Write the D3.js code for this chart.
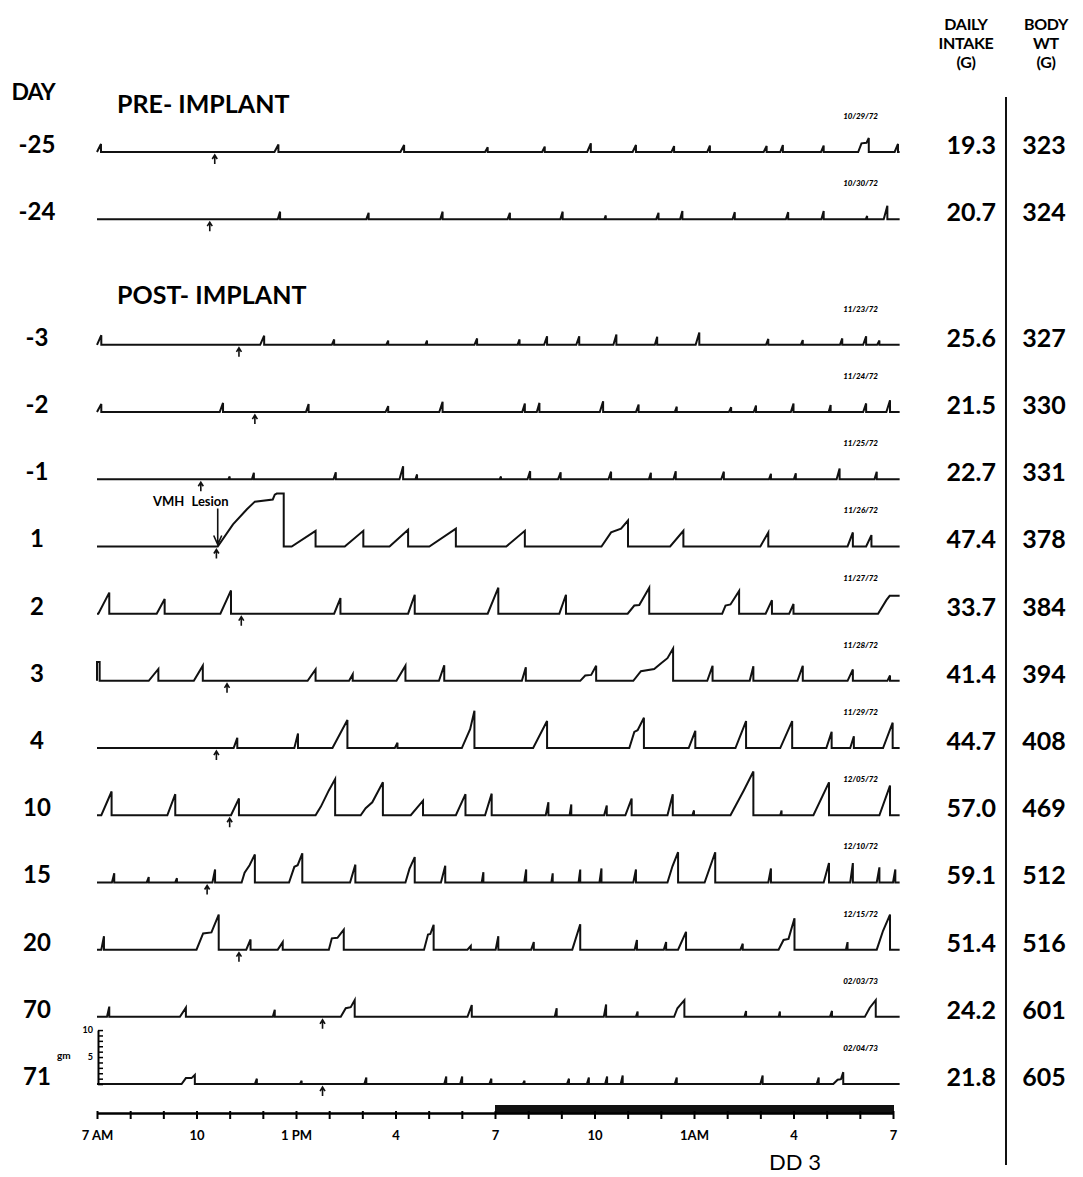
<!DOCTYPE html>
<html>
<head>
<meta charset="utf-8">
<script src="https://cdn.jsdelivr.net/npm/d3@7"></script>
<style>
body { margin:0; background:#fff; }
svg { display:block; font-family: Lato, "DejaVu Sans", sans-serif; }
.trace { fill:none; stroke:#111; stroke-width:2; stroke-linejoin:miter; }
</style>
</head>
<body>
<svg id="chart" width="1083" height="1177"></svg>
<script>
// ---- data ----
const days    = ["-25","-24","-3","-2","-1","1","2","3","4","10","15","20","70","71"];
const dates   = ["10/29/72","10/30/72","11/23/72","11/24/72","11/25/72","11/26/72","11/27/72",
                 "11/28/72","11/29/72","12/05/72","12/10/72","12/15/72","02/03/73","02/04/73"];
const intake  = [19.3,20.7,25.6,21.5,22.7,47.4,33.7,41.4,44.7,57.0,59.1,51.4,24.2,21.8];
const bodyWt  = [323,324,327,330,331,378,384,394,408,469,512,516,601,605];
const markerHours = [3.55,3.4,4.28,4.76,3.13,3.6,4.35,3.92,3.6,4.0,3.32,4.28,6.8,6.8];
const lesionHour = 3.64;
const hourTicks  = d3.range(0, 25);
const tickLabels = ["7 AM","10","1 PM","4","7","10","1AM","4","7"];
const darkPeriod = [12, 24];
const gmTicks = d3.range(0, 11);

// meals: [startHour, endHour, grams] or list of [hour, grams] vertices (drop after last)
const meals = [
  // -25
  [[0.0,0.12,1.5],[5.35,5.47,1.4],[9.15,9.26,1.3],[11.7,11.78,0.9],[13.42,13.5,1.0],[14.78,14.89,1.6],
   [16.15,16.25,1.3],[17.32,17.4,1.1],[18.4,18.48,1.2],[20.1,20.19,1.1],[20.6,20.68,1.3],[21.83,21.91,1.2],
   [[22.95,0],[23.05,1.6],[23.2,1.7],[23.27,2.6]],[24.05,24.15,1.5]],
  // -24
  [[5.45,5.52,1.4],[8.12,8.19,1.2],[10.35,10.42,1.4],[12.38,12.45,1.2],[13.97,14.04,1.4],[15.3,15.34,0.7],
   [16.86,16.93,1.2],[17.58,17.65,1.5],[19.16,19.23,1.3],[20.77,20.84,1.3],[21.84,21.91,1.5],[23.18,23.22,0.6],
   [23.72,23.83,2.5]],
  // -3
  [[0.0,0.13,1.8],[4.92,5.04,1.7],[7.08,7.15,1.0],[8.72,8.78,0.8],[9.9,9.95,0.8],[11.38,11.46,1.2],
   [12.68,12.74,1.0],[13.48,13.57,1.6],[14.45,14.54,1.6],[15.57,15.66,1.9],[16.82,16.89,1.5],[18.05,18.16,2.3],
   [20.17,20.24,1.1],[21.22,21.28,0.9],[22.4,22.47,1.2],[23.1,23.19,1.6],[23.52,23.59,0.8]],
  // -2
  [[0.0,0.13,1.5],[3.7,3.8,1.7],[6.3,6.38,1.5],[8.7,8.78,1.1],[10.32,10.42,1.9],[12.82,12.9,1.6],
   [13.26,13.34,1.7],[15.16,15.26,2.0],[16.25,16.33,1.4],[17.42,17.48,1.0],[19.05,19.12,0.9],[19.8,19.87,1.2],
   [20.92,21.0,1.6],[22.06,22.12,1.3],[23.1,23.19,1.6],[23.8,23.91,2.2]],
  // -1
  [[3.96,4.0,0.5],[4.67,4.73,1.2],[7.13,7.2,1.3],[9.12,9.23,2.4],[9.6,9.65,0.9],[12.14,12.18,0.5],
   [12.98,13.06,1.5],[13.9,13.98,1.3],[15.42,15.5,1.4],[16.64,16.7,1.2],[17.38,17.45,1.5],[18.82,18.9,1.4],
   [20.26,20.32,1.0],[21.01,21.07,1.1],[22.3,22.39,2.0],[23.44,23.51,1.4]],
  // 1
  [[[3.64,0],[4.1,4.1],[4.52,6.9],[4.76,8.3],[5.3,8.7],[5.36,9.6],[5.42,9.8],[5.63,9.8]],
   [5.87,6.59,2.9],[7.47,8.03,2.9],[8.82,9.38,3.1],[10.02,10.82,3.3],[12.34,12.9,2.9],
   [[15.21,0],[15.5,2.6],[15.8,3.3],[16.01,4.8]],[17.28,17.68,2.9],[20.0,20.24,2.6],[22.63,22.79,2.6],
   [23.19,23.35,2.1]],
  // 2
  [[0.04,0.37,3.9],[1.8,2.04,2.7],[3.72,4.04,4.3],[7.15,7.34,2.9],[9.38,9.58,3.5],[11.78,12.1,4.8],
   [13.94,14.14,3.5],[[16.0,0],[16.2,1.5],[16.35,1.6],[16.65,4.8]],[[18.85,0],[18.95,1.5],[19.1,1.7],[19.36,4.2]],
   [20.16,20.35,2.5],[20.87,21.0,1.8],[[23.55,0],[23.8,2.5],[23.9,3.3],[24.2,3.3]]],
  // 3
  [[[0,3.5],[0.08,3.5]],[1.56,1.85,2.2],[2.92,3.19,2.8],[6.35,6.59,2.1],[7.6,7.71,1.2],[9.03,9.3,2.8],
   [10.31,10.47,2.9],[12.81,12.93,2.5],[[14.57,0],[14.72,1.0],[14.9,1.1],[15.05,2.8]],
   [[16.17,0],[16.4,1.8],[16.8,2.2],[17.0,3.2],[17.2,4.2],[17.37,6.0]],[18.4,18.56,2.8],[19.68,19.79,2.7],
   [21.12,21.28,2.8],[22.63,22.79,2.1],[23.83,23.91,1.0]],
  // 4
  [[4.12,4.23,1.9],[5.95,6.06,2.7],[7.1,7.55,5.2],[8.98,9.06,1.0],[[11.0,0],[11.25,3.5],[11.38,6.9]],
   [13.15,13.57,5.0],[[16.05,0],[16.2,3.0],[16.3,3.3],[16.49,5.6]],[17.84,18.04,3.2],[19.25,19.57,5.0],
   [20.6,20.96,5.0],[21.99,22.15,3.0],[22.71,22.82,2.2],[23.7,23.99,4.7]],
  // 10
  [[0.13,0.44,4.4],[2.12,2.36,3.9],[4.04,4.28,3.1],[[6.59,0],[6.75,1.6],[6.99,4.6],[7.18,6.7]],
   [[7.95,0],[8.1,1.3],[8.3,2.4],[8.62,6.1]],[9.46,9.83,2.7],[10.82,11.11,3.9],[11.7,11.9,4.0],
   [13.53,13.61,2.4],[14.25,14.3,2.0],[15.29,15.37,1.8],[15.93,16.12,3.1],[17.2,17.36,3.9],[17.95,18.0,0.9],
   [[19.1,0],[19.5,4.6],[19.79,8.1]],[20.6,20.64,0.9],[21.6,22.07,6.1],[23.59,23.91,5.5]],
  // 15
  [[0.45,0.52,1.7],[1.5,1.56,1.0],[2.36,2.41,0.8],[3.48,3.56,2.4],[[4.36,0],[4.45,1.8],[4.6,3.2],[4.76,5.2]],
   [[5.79,0],[5.95,2.9],[6.05,3.2],[6.19,5.4]],[7.63,7.79,3.3],[[9.3,0],[9.42,2.5],[9.58,4.7]],[10.37,10.5,3.1],
   [11.6,11.65,1.9],[12.88,12.94,2.4],[13.7,13.74,1.7],[14.52,14.57,2.4],[15.15,15.21,2.6],[16.17,16.25,2.4],
   [[17.2,0],[17.35,3.0],[17.52,5.6]],[18.32,18.64,5.6],[20.24,20.32,2.6],[21.91,22.07,3.6],[22.71,22.79,3.6],
   [23.51,23.59,2.8],[24.0,24.07,2.4]],
  // 20
  [[0.13,0.21,2.5],[[3.0,0],[3.2,3.0],[3.45,3.2],[3.67,6.5]],[4.5,4.63,1.9],[5.45,5.6,1.4],
   [[6.99,0],[7.08,2.1],[7.25,2.2],[7.44,3.7]],[[9.86,0],[9.98,2.8],[10.05,2.9],[10.15,4.6]],[11.17,11.27,0.7],
   [12.02,12.1,2.5],[13.09,13.17,1.4],[14.33,14.57,4.7],[16.21,16.28,1.8],[17.09,17.16,1.4],[17.52,17.76,3.3],
   [19.4,19.47,1.1],[[20.55,0],[20.7,1.8],[20.85,2.0],[21.03,5.8]],[22.58,22.63,1.4],[[23.51,0],[23.7,3.5],[23.91,6.5]]],
  // 70
  [[0.3,0.37,1.9],[2.5,2.68,1.7],[5.3,5.36,1.3],[[7.35,0],[7.5,1.6],[7.65,1.8],[7.77,3.1]],[11.17,11.3,2.2],
   [13.8,13.86,1.6],[15.28,15.35,2.3],[16.25,16.3,1.0],[[17.4,0],[17.5,1.6],[17.71,3.1]],[19.52,19.57,1.1],
   [20.55,20.59,1.0],[22.1,22.16,1.1],[[23.15,0],[23.3,1.7],[23.48,3.1]]],
  // 71
  [[[2.55,0],[2.68,1.1],[2.85,1.1],[2.95,1.7]],[4.76,4.82,1.0],[6.12,6.17,0.6],[8.06,8.12,1.2],[10.47,10.53,1.4],
   [10.95,11.01,1.4],[11.83,11.89,1.0],[12.84,12.89,0.6],[14.17,14.23,1.0],[14.77,14.83,1.2],[15.32,15.38,1.4],
   [15.79,15.85,1.6],[17.42,17.48,1.2],[20.0,20.07,1.6],[21.7,21.76,1.2],[[22.2,0],[22.33,0.8],[22.43,0.9],[22.5,2.2]]]
];

// ---- layout ----
const svg = d3.select("#chart");
const traceEnd = 24.2;
const x = d3.scaleLinear().domain([0, 24]).range([97, 893]);
const gy = d3.scaleLinear().domain([0, 10]).range([0, -54]);   // grams -> offset from baseline
const slotY = d3.scaleLinear().domain([0, 1]).range([152, 219.2]);
const rowY = i => slotY(i < 2 ? i : i + 0.87);

function verts(m) { return Array.isArray(m[0]) ? m : [[m[0], 0], [m[1], m[2]]]; }
function tracePoints(rowMeals) {
  const pts = [[0, 0]];
  rowMeals.forEach(m => {
    const v = verts(m);
    pts.push([v[0][0], 0]);
    v.forEach(p => pts.push(p));
    const last = v[v.length - 1];
    if (last[0] < traceEnd) pts.push([last[0], 0]);
  });
  const lp = pts[pts.length - 1];
  if (lp[0] < traceEnd) pts.push([traceEnd, 0]);
  return pts;
}

// headers
svg.append("text").attr("x", 33).attr("y", 100).attr("text-anchor", "middle")
   .attr("font-size", 23).attr("font-weight", 700).attr("letter-spacing", -1).text("DAY");
svg.append("text").attr("x", 117).attr("y", 113).attr("font-size", 25).attr("font-weight", 700)
   .text("PRE- IMPLANT");
svg.append("text").attr("x", 117).attr("y", 304).attr("font-size", 25).attr("font-weight", 700)
   .text("POST- IMPLANT");

[["DAILY", 30], ["INTAKE", 49], ["(G)", 68]].forEach(([t, y]) =>
  svg.append("text").attr("x", 966).attr("y", y).attr("text-anchor", "middle").attr("font-size", 16)
     .attr("font-weight", 700).attr("letter-spacing", -0.3).text(t));
[["BODY", 30], ["WT", 49], ["(G)", 68]].forEach(([t, y]) =>
  svg.append("text").attr("x", 1046).attr("y", y).attr("text-anchor", "middle").attr("font-size", 16)
     .attr("font-weight", 700).attr("letter-spacing", -0.3).text(t));

svg.append("line").attr("x1", 1006).attr("x2", 1006).attr("y1", 97).attr("y2", 1165)
   .attr("stroke", "#111").attr("stroke-width", 2);

// rows
const line = (i) => d3.line().x(d => x(d[0])).y(d => rowY(i) + gy(d[1]));
const rows = svg.selectAll("g.row").data(days).join("g").attr("class", "row");

rows.append("path").attr("class", "trace")
    .attr("d", (d, i) => line(i)(tracePoints(meals[i])));

rows.append("text").attr("x", 37).attr("y", (d, i) => rowY(i) + 1).attr("text-anchor", "middle")
    .attr("font-size", 24).attr("font-weight", 700).text(d => d);

rows.append("text").attr("x", 996).attr("y", (d, i) => rowY(i) + 2).attr("text-anchor", "end")
    .attr("font-size", 25).attr("font-weight", 700).text((d, i) => intake[i].toFixed(1));

rows.append("text").attr("x", 1044).attr("y", (d, i) => rowY(i) + 2).attr("text-anchor", "middle")
    .attr("font-size", 25).attr("font-weight", 700).text((d, i) => bodyWt[i]);

rows.append("text").attr("x", 878).attr("y", (d, i) => rowY(i) - 33).attr("text-anchor", "end")
    .attr("font-size", 8).attr("font-weight", 900).attr("font-style", "italic").text((d, i) => dates[i]);

// time markers under each trace
rows.append("path")
    .attr("d", (d, i) => {
      const mx = x(markerHours[i]), y0 = rowY(i);
      return `M${mx},${y0 + 3}V${y0 + 12}M${mx - 2.5},${y0 + 7}L${mx},${y0 + 3}L${mx + 2.5},${y0 + 7}`;
    })
    .attr("fill", "none").attr("stroke", "#111").attr("stroke-width", 1.6);

// VMH lesion arrow (day 1)
const li = days.indexOf("1");
const lx = x(lesionHour), ly = rowY(li);
svg.append("path").attr("d", `M${lx},${ly - 38}V${ly - 3}M${lx - 4},${ly - 11}L${lx},${ly - 2}L${lx + 4},${ly - 11}`)
   .attr("fill", "none").attr("stroke", "#111").attr("stroke-width", 1.6);
svg.append("text").attr("x", 153).attr("y", ly - 40).attr("font-size", 13).attr("font-weight", 700)
   .attr("word-spacing", 4).text("VMH Lesion");

// gram scale on the last trace
const last = days.length - 1;
const gAbs = d3.scaleLinear().domain([0, 10]).range([rowY(last), rowY(last) + gy(10)]);
const gAxis = svg.append("g").attr("transform", `translate(${x(0) + 1},0)`)
  .call(d3.axisLeft(gAbs).tickValues(gmTicks).tickSizeInner(-5).tickSizeOuter(0).tickPadding(5)
        .tickFormat(v => (v === 5 || v === 10) ? v : ""));
gAxis.select(".domain").attr("stroke-width", 2);
gAxis.selectAll(".tick line").attr("stroke-width", 1.5);
gAxis.selectAll(".tick text").attr("font-size", 9).attr("font-weight", 700).attr("font-family", "Lato, sans-serif");
svg.append("text").attr("x", 57).attr("y", gAbs(5) + 2).attr("font-size", 10).attr("font-weight", 700).text("gm");

// time axis
const axisY = 1113;
svg.append("rect").attr("x", x(darkPeriod[0])).attr("y", axisY - 8)
   .attr("width", x(darkPeriod[1]) - x(darkPeriod[0]) + 1).attr("height", 8).attr("fill", "#111");
const tAxis = svg.append("g").attr("transform", `translate(0,${axisY})`)
  .call(d3.axisBottom(x).tickValues(hourTicks).tickSizeInner(6).tickSizeOuter(0).tickPadding(12)
        .tickFormat(h => h % 3 === 0 ? tickLabels[h / 3] : ""));
tAxis.select(".domain").attr("stroke-width", 2.5);
tAxis.selectAll(".tick line").attr("stroke-width", 2).attr("y1", -2);
tAxis.selectAll(".tick text").attr("font-size", 13).attr("font-weight", 700).attr("font-family", "Lato, sans-serif");
svg.append("text").attr("x", 795).attr("y", 1170).attr("text-anchor", "middle").attr("font-size", 22)
   .text("DD 3");
</script>
</body>
</html>
